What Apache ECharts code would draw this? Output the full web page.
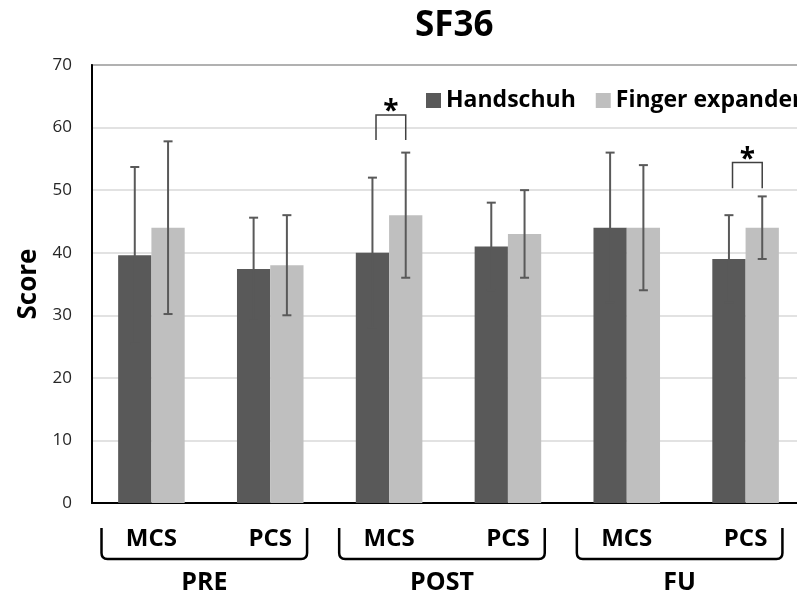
<!DOCTYPE html>
<html>
<head>
<meta charset="utf-8">
<script src="https://cdn.jsdelivr.net/npm/echarts@6/dist/echarts.min.js"></script>
<style>html,body{margin:0;padding:0;background:#fff;overflow:hidden;}#chart{width:830px;height:598px;}</style>
</head>
<body>
<div id="chart"></div>
<script>
var titleText = 'SF36';
var yAxisName = 'Score';
var categories = ['MCS', 'PCS', 'MCS', 'PCS', 'MCS', 'PCS'];
var groupNames = ['PRE', 'POST', 'FU'];
var seriesNames = ['Handschuh', 'Finger expander'];
var handschuh = [39.6, 37.4, 40, 41, 44, 39];
var handschuhSD = [14.1, 8.2, 12, 7, 12, 7];
var finger = [44, 38, 46, 43, 44, 44];
var fingerSD = [13.8, 8, 10, 7, 10, 5];
var sigCategory = [2, 5];
var sigLow = [58, 50.3];
var sigHigh = [62, 54.4];
var yTicks = [0, 10, 20, 30, 40, 50, 60, 70];

var FONT = 'Open Sans';
var DARK = '#595959', LIGHT = '#bfbfbf';

var chart = echarts.init(document.getElementById('chart'));

function errRender(offFrac) {
  return function (params, api) {
    var x = api.value(0), v = api.value(1), sd = api.value(2);
    var band = api.size([1, 0])[0];
    var c = api.coord([x, v]);
    var cx = c[0] + offFrac * band;
    var hi = api.coord([x, v + sd])[1];
    var lo = api.coord([x, v - sd])[1];
    var cap = 4.5;
    var st = { stroke: DARK, lineWidth: 2 };
    return {
      type: 'group',
      children: [
        { type: 'line', shape: { x1: cx, y1: hi, x2: cx, y2: lo }, style: st },
        { type: 'line', shape: { x1: cx - cap, y1: hi, x2: cx + cap, y2: hi }, style: st },
        { type: 'line', shape: { x1: cx - cap, y1: lo, x2: cx + cap, y2: lo }, style: st }
      ]
    };
  };
}

var errDataH = handschuh.map(function (v, i) { return [i, v, handschuhSD[i]]; });
var errDataF = finger.map(function (v, i) { return [i, v, fingerSD[i]]; });
var sigData = sigCategory.map(function (c, i) { return [c, sigLow[i], sigHigh[i]]; });
var groupData = groupNames.map(function (g, i) { return [i * 2, 0, i]; });

var option = {
  animation: false,
  backgroundColor: '#fff',
  title: {
    text: titleText,
    left: 415,
    top: 9,
    padding: 0,
    textStyle: { fontFamily: FONT, fontWeight: 'bold', fontSize: 35, color: '#000' }
  },
  legend: {
    data: seriesNames,
    left: 426,
    top: 89,
    icon: 'rect',
    itemWidth: 15,
    itemHeight: 15,
    itemGap: 20,
    padding: 0,
    selectedMode: false,
    textStyle: { fontFamily: FONT, fontWeight: 'bold', fontSize: 23, color: '#000' }
  },
  grid: {
    left: 92,
    top: 65,
    width: 713,
    height: 438,
    show: true,
    borderColor: '#000',
    borderWidth: 1.5,
    containLabel: false
  },
  xAxis: {
    type: 'category',
    data: categories,
    axisLine: { show: true, lineStyle: { color: '#000', width: 2 } },
    axisTick: { show: false },
    axisLabel: {
      margin: 24,
      fontFamily: FONT,
      fontWeight: 'bold',
      fontSize: 24,
      lineHeight: 24,
      color: '#000'
    }
  },
  yAxis: {
    type: 'value',
    min: 0,
    max: 70,
    interval: 10,
    name: yAxisName,
    nameLocation: 'middle',
    nameGap: 50,
    nameRotate: 90,
    nameTextStyle: { fontFamily: FONT, fontWeight: 'bold', fontSize: 26, color: '#000' },
    axisLine: { show: true, lineStyle: { color: '#000', width: 2 } },
    axisTick: { show: false },
    splitLine: { lineStyle: { color: '#d9d9d9', width: 1.5 } },
    axisLabel: {
      margin: 20,
      fontFamily: FONT,
      fontSize: 17,
      color: '#262626',
      formatter: function (v) { return yTicks.indexOf(v) >= 0 ? String(v) : ''; }
    }
  },
  series: [
    {
      name: seriesNames[0], type: 'bar', data: handschuh,
      barGap: '0%', barCategoryGap: '44%',
      itemStyle: { color: DARK }, z: 2
    },
    {
      name: seriesNames[1], type: 'bar', data: finger,
      barGap: '0%', barCategoryGap: '44%',
      itemStyle: { color: LIGHT }, z: 2
    },
    {
      type: 'custom', name: 'errH', data: errDataH, renderItem: errRender(-0.14),
      z: 5, silent: true, clip: false
    },
    {
      type: 'custom', name: 'errF', data: errDataF, renderItem: errRender(0.14),
      z: 5, silent: true, clip: false
    },
    {
      type: 'custom', name: 'sig', data: sigData, z: 6, silent: true, clip: false,
      renderItem: function (params, api) {
        var x = api.value(0);
        var band = api.size([1, 0])[0];
        var c = api.coord([x, api.value(1)]);
        var top = api.coord([x, api.value(2)])[1];
        var l = c[0] - 0.11 * band, r = c[0] + 0.14 * band;
        var b = c[1];
        return {
          type: 'group',
          children: [
            {
              type: 'polyline',
              shape: { points: [[l, b], [l, top], [r, top], [r, b]] },
              style: { stroke: '#404040', lineWidth: 1.5, fill: null }
            },
            {
              type: 'text',
              style: {
                x: (l + r) / 2, y: top + 11, text: '*',
                textAlign: 'center', textVerticalAlign: 'bottom',
                fontFamily: FONT, fontWeight: 'bold', fontSize: 28, fill: '#000'
              }
            }
          ]
        };
      }
    },
    {
      type: 'custom', name: 'groups', data: groupData, z: 6, silent: true, clip: false,
      renderItem: function (params, api) {
        var i = api.value(0);
        var band = api.size([1, 0])[0];
        var c1 = api.coord([i, 0]);
        var c2 = api.coord([i + 1, 0]);
        var l = c1[0] - 0.42 * band, r = c2[0] + 0.31 * band;
        var t = c1[1] + 25, b = c1[1] + 56, rad = 6;
        var d = 'M' + l + ' ' + t + ' L' + l + ' ' + (b - rad) + ' Q' + l + ' ' + b + ' ' + (l + rad) + ' ' + b +
          ' L' + (r - rad) + ' ' + b + ' Q' + r + ' ' + b + ' ' + r + ' ' + (b - rad) + ' L' + r + ' ' + t;
        return {
          type: 'group',
          children: [
            { type: 'path', shape: { pathData: d }, style: { stroke: '#000', lineWidth: 2.5, fill: null } },
            {
              type: 'text',
              style: {
                x: (l + r) / 2, y: c1[1] + 80, text: groupNames[api.value(2)],
                textAlign: 'center', textVerticalAlign: 'middle',
                fontFamily: FONT, fontWeight: 'bold', fontSize: 25, fill: '#000'
              }
            }
          ]
        };
      }
    }
  ]
};
chart.setOption(option);
</script>
</body>
</html>
